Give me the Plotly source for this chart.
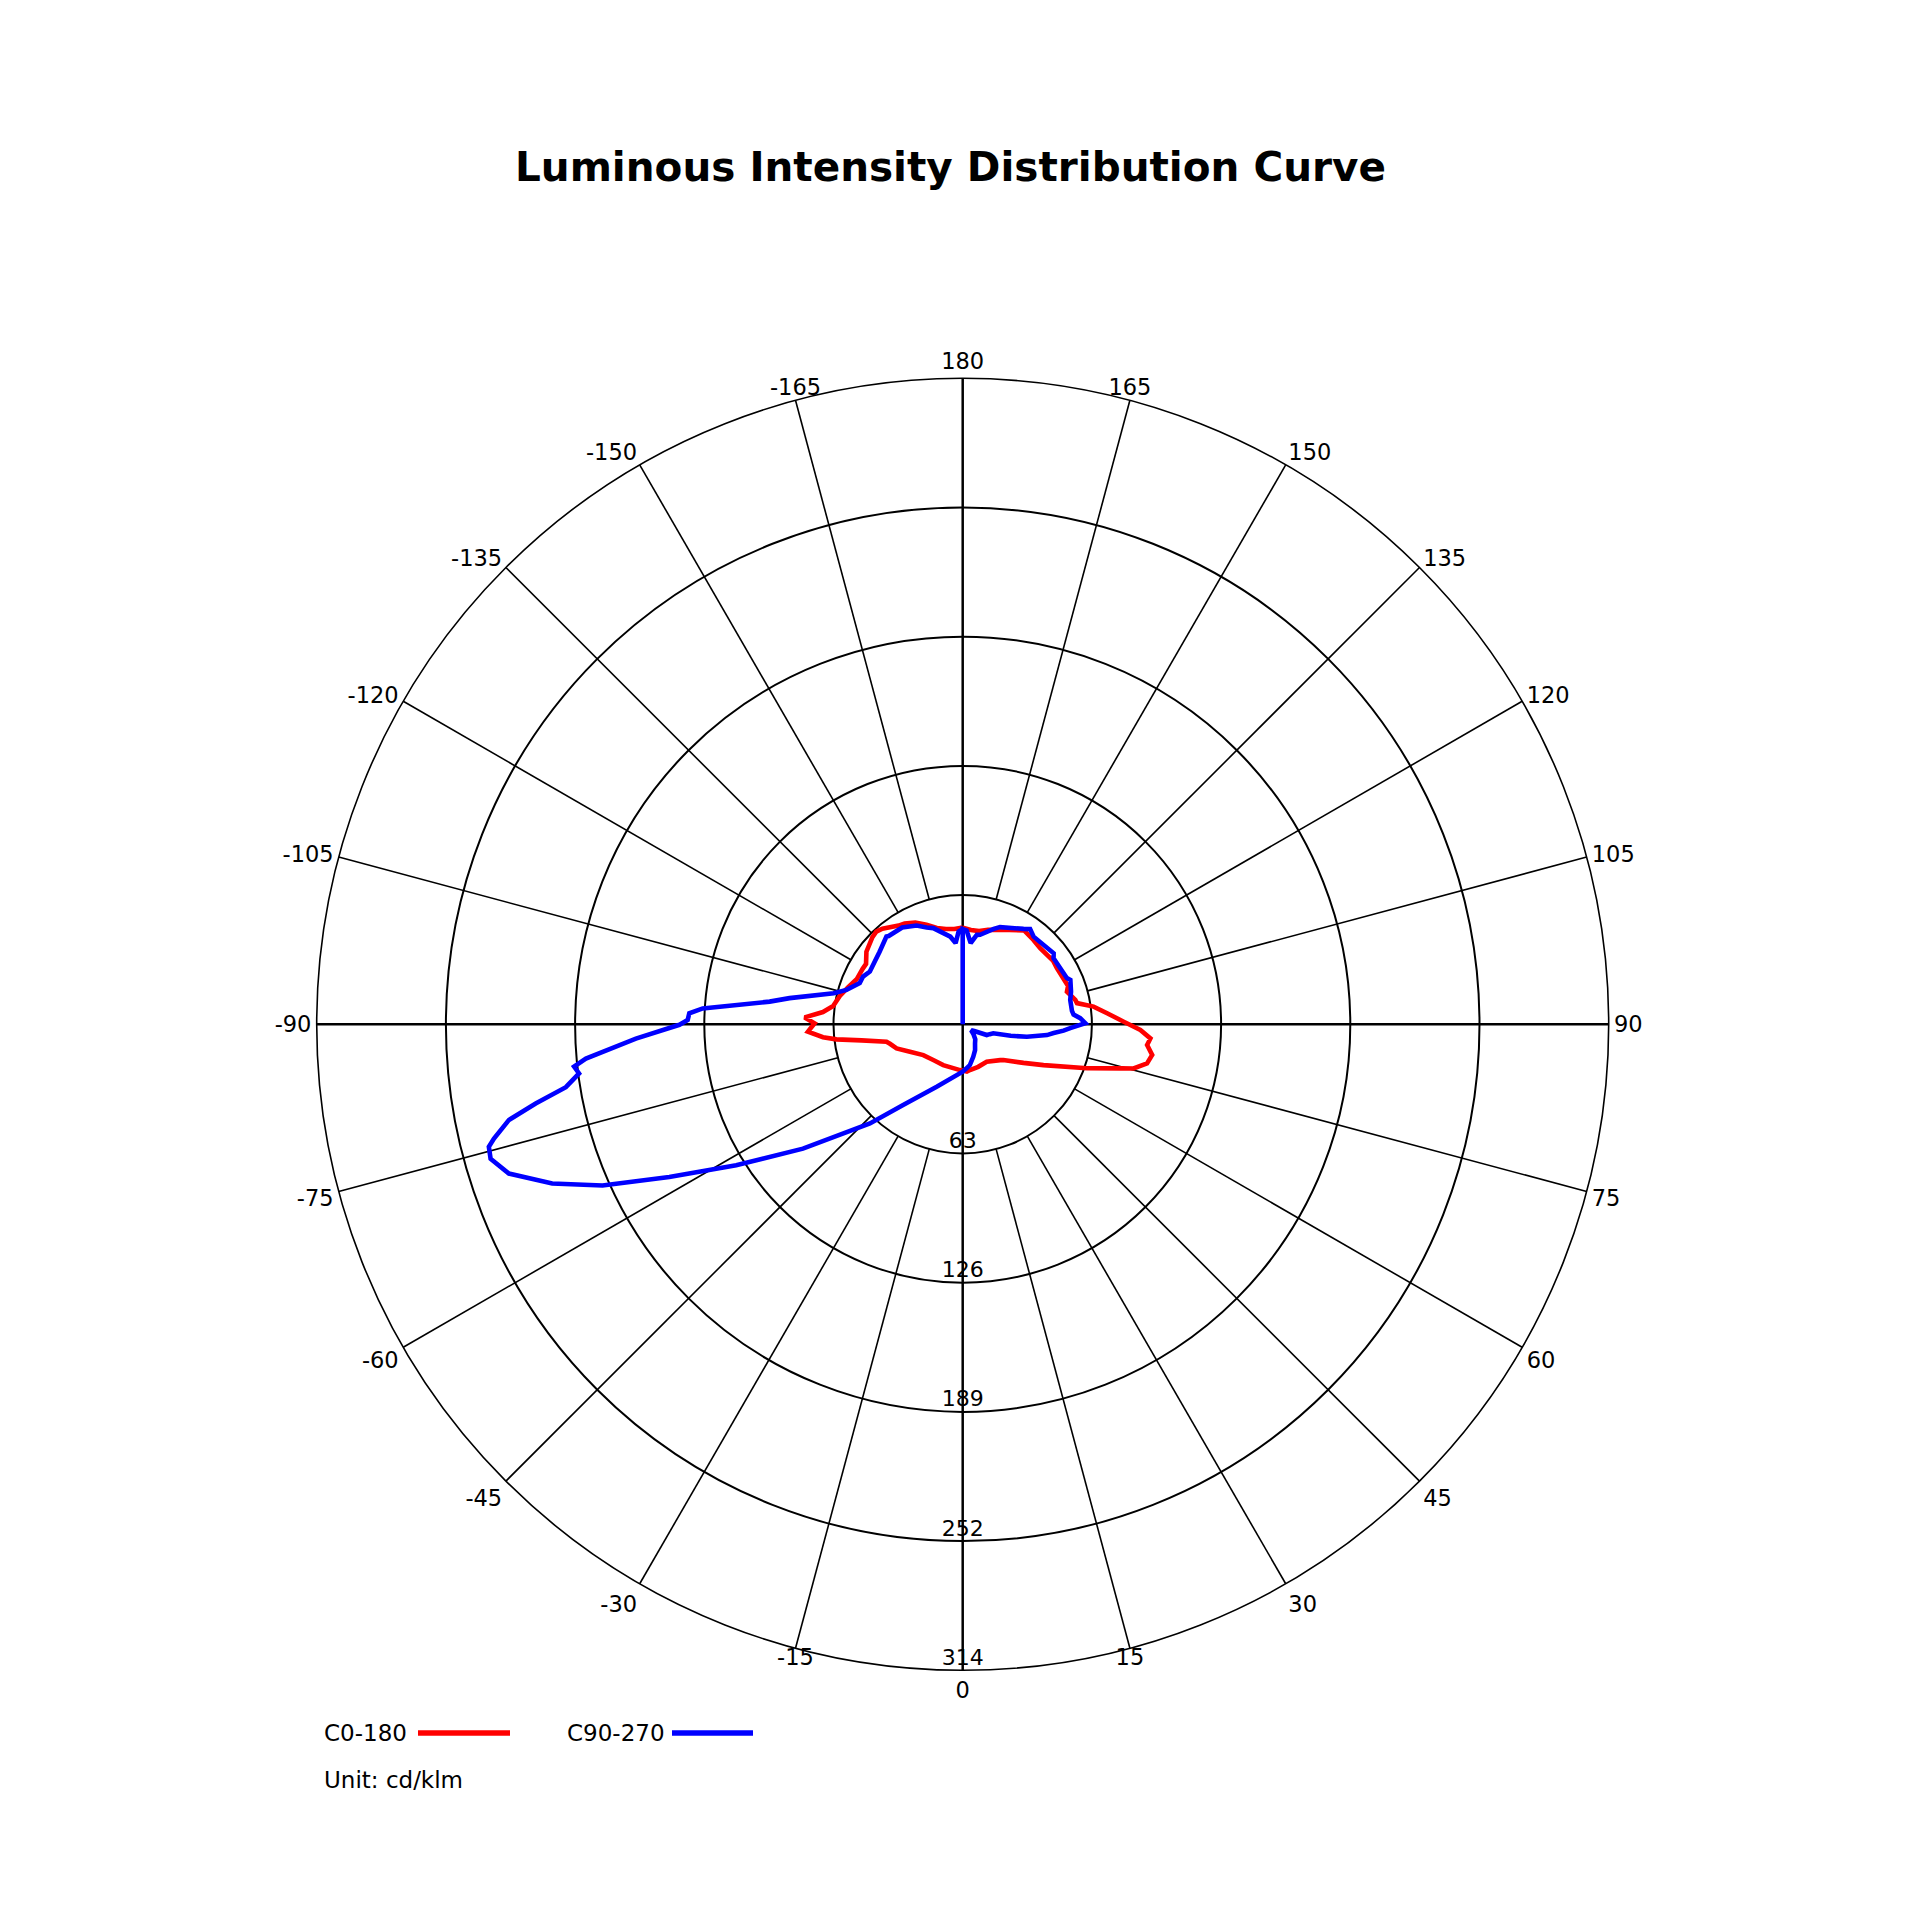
import math
import plotly.graph_objects as go

# ---------------- data ----------------
c0_theta = [-180, -175, -170, -165, -160, -155, -150, -147, -140, -137, -134, -127,
            -122, -119, -113, -108, -103, -98, -95, -92.5, -90.4, -87.3, -84.7,
            -83.2, -81, -77.1, -75, -70, -62.5, -52, -39.5, -25.5, -3.4, 0, 5, 9,
            20, 32.7, 46.3, 48.7, 57.6, 63.2, 70.5, 74.4, 75.5, 78, 80.8, 83.6,
            85.7, 88.2, 90.9, 94.4, 97.7, 100.5, 102.2, 107.4, 110, 120.8, 125,
            134.5, 140, 146.8, 158.4, 165, 170, 175, 180]
c0_r = [47, 46.5, 47, 48.5, 51.5, 54.5, 56.5, 57.2, 60.7, 61.6, 61, 58.6,
        55.4, 55.6, 56, 58.5, 61.3, 63.6, 68.2, 76.9, 72, 75.3, 68.2,
        61.8, 49.8, 38, 36.6, 34.2, 28.9, 24.3, 22.5, 22, 22.3, 22.5, 23.1, 22.5,
        22, 21.6, 25.2, 26.3, 35, 44, 64.1, 79.6, 85.8, 91.6, 93.3, 90.2,
        91.5, 86.4, 78.3, 70.4, 64.2, 56.5, 56, 53.1, 54.5, 53.3, 53.7,
        52.8, 53.5, 54.5, 49.4, 47.5, 46, 46, 47]

c90_theta = [-180, -177.5, -175, -172, -168, -163, -159.6, -155, -148, -140, -139,
             -131, -125.5, -119.6, -115.6, -111.8, -106.5, -103.5, -98.6, -96.7,
             -93.5, -92.3, -90.9, -89.9, -87.5, -84.8, -83.8, -82.7, -81, -79.5,
             -78.1, -76.3, -75.5, -74.1, -71.8, -68.8, -65.9, -62.5, -58.1, -52.1,
             -43.1, -36.4, -22.6, 0, 5, 10, 18, 25.6, 33, 40, 48, 55, 60, 66, 70,
             73.6, 76.5, 79, 82.7, 84.5, 86.4, 88, 90.5, 93, 95, 97, 102.8, 106.8,
             112.4, 114, 126, 128, 141, 144.7, 147.5, 159, 162, 169, 171, 174.4,
             177.6, 180, 180]
c90_r = [46.3, 45.2, 39.6, 43, 45.3, 48.9, 50.2, 53, 55.5, 56, 56.5,
         53.6, 52.5, 51.9, 53.7, 53.9, 58.9, 64.5, 85.1, 94.5,
         126.6, 133, 133.7, 137.7, 159, 183.9, 190, 188, 195.3, 211.1,
         225.4, 234.5, 237.9, 238.6, 232.2, 214, 191.8, 160.8, 129.7, 98.4,
         66, 48.8, 32.9, 23, 21.5, 20.1, 16.6, 13.9, 11, 9.5, 7, 5, 6.5, 12.8, 14,
         15.5, 24, 31.8, 41.3, 44.4, 49.1, 52.3, 59.6, 57.2, 54.1, 53.5, 53.6, 55,
         56.6, 55.4, 54.6, 56.1, 54.8, 56.7, 55, 50.6, 48.8, 44.3, 44, 39.7,
         45.6, 46.3, 0]

series_names = ["C0-180", "C90-270"]
series_colors = ["#FF0000", "#0000FF"]

radial_max = 314
radial_ticks = [62.8, 125.6, 188.4, 251.2, 314]
radial_labels = ["63", "126", "189", "252", "314"]

angle_ticks = list(range(0, 360, 15))
angle_labels = [str(a if a <= 180 else a - 360) for a in angle_ticks]

title_text = "Luminous Intensity Distribution Curve"
unit_text = "Unit: cd/klm"

# ---------------- figure ----------------
W = H = 1920
OFF = 8.0  # page body margin
cx, cy, R = 962.7 - OFF, 1024.3 - OFF, 646.0
FONT = "DejaVu Sans, Verdana, sans-serif"
TICKFONT = dict(family=FONT, size=22.5, color="black")
GRID_W = 1.6


def px(x):
    return (x - OFF) / W


def py(y):
    return 1 - (y - OFF) / H


fig = go.Figure()

# spokes: thin ones from inner ring outwards, main axes through centre
thin_r, thin_t, thick_r, thick_t = [], [], [], []
for a in angle_ticks:
    if a % 90 == 0:
        thick_r += [0, radial_max, None]
        thick_t += [a, a, None]
    else:
        thin_r += [radial_ticks[0], radial_max, None]
        thin_t += [a, a, None]

fig.add_trace(go.Scatterpolar(r=thin_r, theta=thin_t, mode="lines",
                              line=dict(color="black", width=GRID_W),
                              hoverinfo="skip", showlegend=False))
fig.add_trace(go.Scatterpolar(r=thick_r, theta=thick_t, mode="lines",
                              line=dict(color="black", width=2.5),
                              hoverinfo="skip", showlegend=False))

for th, rr, nm, col in [(c0_theta, c0_r, series_names[0], series_colors[0]),
                        (c90_theta, c90_r, series_names[1], series_colors[1])]:
    fig.add_trace(go.Scatterpolar(r=rr, theta=th, mode="lines", name=nm,
                                  line=dict(color=col, width=4.6),
                                  showlegend=False))

# radial tick labels along the 0° spoke
fig.add_trace(go.Scatterpolar(r=radial_ticks, theta=[0] * len(radial_ticks),
                              mode="text", text=radial_labels,
                              textposition="top center",
                              textfont=dict(family=FONT, size=22, color="black"),
                              hoverinfo="skip", showlegend=False))

# angle labels near the vertical get centred above/below the spoke end
centred = [a for a in angle_ticks if math.cos(math.radians(a)) ** 2 > 0.9
           and a % 180 != 0]
native_text = ["" if a in centred else t for a, t in zip(angle_ticks, angle_labels)]
fig.add_trace(go.Scatterpolar(
    r=[radial_max] * len(centred), theta=centred, mode="text",
    text=[angle_labels[angle_ticks.index(a)] for a in centred],
    textposition=["bottom center" if math.cos(math.radians(a)) > 0 else "top center"
                  for a in centred],
    textfont=TICKFONT, cliponaxis=False, hoverinfo="skip", showlegend=False))

fig.update_layout(
    width=W, height=H,
    margin=dict(l=0, r=0, t=0, b=0),
    paper_bgcolor="white",
    showlegend=False,
    font=dict(family=FONT, color="black"),
    polar=dict(
        domain=dict(x=[(cx - R) / W, (cx + R) / W],
                    y=[1 - (cy + R) / H, 1 - (cy - R) / H]),
        bgcolor="white",
        radialaxis=dict(range=[0, radial_max], tickvals=radial_ticks,
                        showticklabels=False, ticks="", showline=False,
                        showgrid=True, gridcolor="black", gridwidth=GRID_W),
        angularaxis=dict(rotation=-90, direction="counterclockwise",
                         tickmode="array", tickvals=angle_ticks,
                         ticktext=native_text, ticks="",
                         tickfont=TICKFONT,
                         showgrid=False, showline=True,
                         linecolor="black", linewidth=GRID_W),
    ),
)

# title
fig.add_annotation(text="<b>" + title_text + "</b>", xref="paper", yref="paper",
                   x=px(950), y=py(167), xanchor="center", yanchor="middle",
                   showarrow=False, font=dict(family=FONT, size=40.5, color="black"))

# legend (text followed by line sample), and unit note
leg = [(322, 418, 510, series_names[0], series_colors[0]),
       (565, 672, 753, series_names[1], series_colors[1])]
for tx, x0, x1, nm, col in leg:
    fig.add_annotation(text=nm, xref="paper", yref="paper", x=px(tx),
                       y=py(1733), xanchor="left", yanchor="middle",
                       showarrow=False,
                       font=dict(family=FONT, size=23, color="black"))
    fig.add_shape(type="line", xref="paper", yref="paper",
                  x0=px(x0), x1=px(x1), y0=py(1733), y1=py(1733),
                  line=dict(color=col, width=5.5))
fig.add_annotation(text=unit_text, xref="paper", yref="paper", x=px(322),
                   y=py(1780), xanchor="left", yanchor="middle",
                   showarrow=False, font=dict(family=FONT, size=23, color="black"))

fig.write_html("out.html")
